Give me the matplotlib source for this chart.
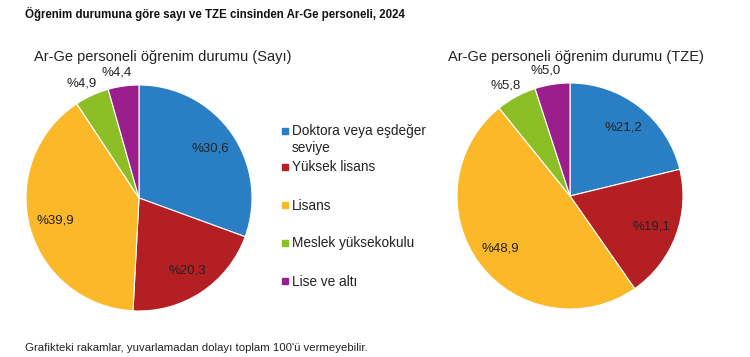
import matplotlib.pyplot as plt
import numpy as np

plt.rcParams["font.family"] = ["Liberation Sans", "DejaVu Sans"]

categories = ["Doktora veya eşdeğer\nseviye", "Yüksek lisans", "Lisans",
              "Meslek yüksekokulu", "Lise ve altı"]
sayi = [30.6, 20.3, 39.9, 4.9, 4.4]
tze = [21.2, 19.1, 48.9, 5.8, 5.0]
colors = ["#2a7fc4", "#b31f22", "#fbb829", "#8cbf26", "#9a1f8c"]

W, H = 750, 357
fig = plt.figure(figsize=(W / 100, H / 100), dpi=100)


def fmt(v):
    return "%" + ("%.1f" % v).replace(".", ",")


def draw_pie(cx, cy, r, values, title, tx):
    ax = fig.add_axes([(cx - r) / W, 1 - (cy + r) / H, 2 * r / W, 2 * r / H])
    wedges, _ = ax.pie(values, colors=colors, startangle=90, counterclock=False,
                       wedgeprops=dict(linewidth=0.8, edgecolor="white"))
    ax.set_xlim(-1, 1)
    ax.set_ylim(-1, 1)
    ax.set_aspect("equal")
    ax.axis("off")
    for w, v in zip(wedges, values):
        ang = np.deg2rad((w.theta1 + w.theta2) / 2)
        if v > 10:
            d = 0.77
        else:
            d = 1.13
            ang += np.deg2rad(2)
        ax.text(d * np.cos(ang), d * np.sin(ang), fmt(v), ha="center",
                va="center", fontsize=9.5, color="#222222")
    fig.text(tx / W, 1 - 57 / H, title, ha="center", va="center",
             fontsize=10.5, color="#222222")


draw_pie(139, 198, 113, sayi, "Ar-Ge personeli öğrenim durumu (Sayı)", 163)
draw_pie(570, 196, 113, tze, "Ar-Ge personeli öğrenim durumu (TZE)", 576)

# legend
leg_y = [131, 167, 205, 243, 281]
for lab, c, y in zip(categories, colors, leg_y):
    fig.patches.append(plt.Rectangle((282 / W, 1 - (y + 3) / H), 6 / W, 6 / H,
                                     transform=fig.transFigure, color=c))
    fig.text(292 / W, 1 - (y - 6.5) / H, lab, ha="left", va="top",
             fontsize=9.8, color="#222222", linespacing=1.2)

fig.text(25 / W, 1 - 14 / H, "Öğrenim durumuna göre sayı ve TZE cinsinden Ar-Ge personeli, 2024",
         ha="left", va="center", fontsize=8.3, fontweight="bold", color="#111111")
fig.text(25 / W, 1 - 348 / H,
         "Grafikteki rakamlar, yuvarlamadan dolayı toplam 100'ü vermeyebilir.",
         ha="left", va="center", fontsize=8.2, color="#222222")

fig.savefig("out.png", dpi=100, facecolor="white")
